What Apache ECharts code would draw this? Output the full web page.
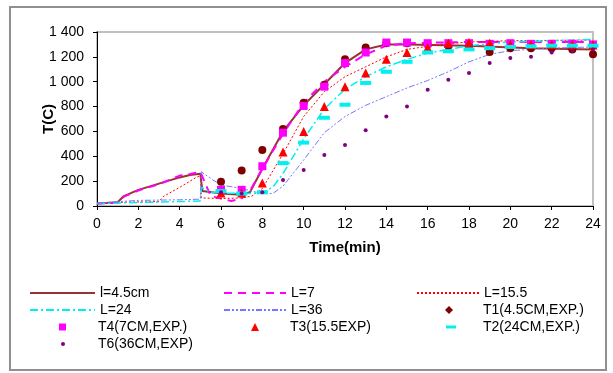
<!DOCTYPE html>
<html>
<head>
<meta charset="utf-8">
<script src="https://cdn.jsdelivr.net/npm/echarts@6/dist/echarts.min.js"></script>
<style>html,body{margin:0;padding:0;background:#fff}#c{width:613px;height:373px}</style>
</head>
<body>
<div id="c"></div>
<script>
// ---- data ----
var xTicks = [0,2,4,6,8,10,12,14,16,18,20,22,24];
var yTicks = [0,200,400,600,800,1000,1200,1400];

var tL45 = [0,1,1.3,2,3,4,4.5,5,5.1,6,7,7.4,8,9,10,11,12,13,14,15,18,21,24];
var vL45 = [20,30,80,130,180,230,250,260,120,100,90,110,300,600,810,980,1150,1260,1300,1300,1290,1270,1260];

var tL7 = [0,1,1.3,2,3,4,4.5,5,5.5,6.5,7,7.5,8,9,10,11,12,13,14,15,18,21,24];
var vL7 = [20,25,75,125,175,245,258,275,80,40,60,150,300,580,830,1000,1120,1220,1290,1310,1320,1320,1320];

var tL155 = [0,1,3,3.2,4,4.75,5,5.05,6,7,7.5,8,9,10,11,12,13,14,15,16.6,18,20,24];
var vL155 = [20,30,35,75,150,225,245,65,60,65,80,140,420,720,920,1040,1120,1200,1260,1300,1320,1330,1335];

var tL24 = [0,5,5.05,5.5,6,7,7.5,8,8.5,9,10,11,12,13,14,15,16,17,18,20,22,24];
var vL24 = [20,40,150,110,105,100,100,110,150,260,540,780,940,1040,1120,1180,1230,1260,1290,1320,1330,1340];

var tL36 = [0,1,2,4,5,5.05,5.6,6,7,7.5,8,8.5,9,10,11,12,13,14,15,16,17,18,19,20,22,24];
var vL36 = [20,35,45,50,55,275,210,170,140,120,100,100,160,370,590,720,810,880,950,1010,1080,1160,1220,1250,1270,1280];

var tExp = [6,7,8,9,10,11,12,13,14,15,16,17,18,19,20,21,22,23,24];
var vT1 = [195,285,450,620,830,975,1180,1275,1310,1310,1300,1290,1280,1240,1270,1270,1270,1260,1220];
var vT4 = [130,130,320,590,805,960,1150,1235,1315,1315,1310,1310,1310,1305,1310,1305,1305,1305,1300];
var vT3 = [105,105,185,435,600,800,960,1070,1180,1235,1275,1310,1315,1310,1300,1300,1300,1300,1295];
var vT2 = [120,100,110,345,510,710,815,990,1080,1160,1235,1245,1260,1270,1280,1285,1290,1290,1290];
var vT6 = [110,100,110,210,290,410,490,610,720,800,935,1015,1070,1150,1190,1200,1235,1250,1260];

var names = ['l=4.5cm','L=7','L=15.5','L=24','L=36','T1(4.5CM,EXP.)','T4(7CM,EXP.)','T3(15.5EXP)','T2(24CM,EXP.)','T6(36CM,EXP)'];

function zip(t, v){ return t.map(function(x,i){ return [x, v[i]]; }); }

var FONT = '"Liberation Sans", Arial, sans-serif';
var CYAN = '#00f0f0';
var P_DASH = 'path://M0,0h10v3h-10z';

function lineSeries(name, t, v, color, width, type){
  return { name: name, type: 'line', data: zip(t, v), symbol: 'none', smooth: false,
    lineStyle: { color: color, width: width, type: type }, itemStyle: { color: color }, z: 2 };
}
function scatterSeries(name, v, color, symbol, size){
  return { name: name, type: 'scatter', data: zip(tExp, v), symbol: symbol, symbolSize: size,
    itemStyle: { color: color, opacity: 1 }, z: 5 };
}

var series = [
  lineSeries(names[0], tL45, vL45, '#993333', 2, 'solid'),
  lineSeries(names[1], tL7, vL7, '#ff00ff', 2, [8,6]),
  lineSeries(names[2], tL155, vL155, '#ff0000', 1, [2,2]),
  lineSeries(names[3], tL24, vL24, CYAN, 1.5, [8,3,2,3]),
  lineSeries(names[4], tL36, vL36, '#7777ff', 1, [6,2,2,2,2,2]),
  scatterSeries(names[5], vT1, '#800000', 'circle', 8),
  scatterSeries(names[6], vT4, '#ff00ff', 'rect', 8),
  scatterSeries(names[7], vT3, '#ff0000', 'triangle', 9),
  scatterSeries(names[8], vT2, CYAN, P_DASH, [11,4]),
  scatterSeries(names[9], vT6, '#800080', 'circle', 4)
];

// legend layout: [series index, left, rowIndex, itemWidth, itemHeight, icon, textPadLeft]
var legendRows = [294, 311, 328, 345];
var legendSpec = [
  [0, 29, 0, 65, 12, null, 0],
  [1, 223, 0, 62, 12, null, 0],
  [2, 416, 0, 62, 12, null, 0],
  [3, 29, 1, 65, 12, null, 0],
  [4, 223, 1, 62, 12, null, 0],
  [5, 445, 1, 8, 8, 'diamond', 25],
  [6, 59, 2, 7, 7, 'rect', 27],
  [7, 251, 2, 8, 8, 'triangle', 26],
  [8, 446, 2, 10, 3, 'rect', 22],
  [9, 61, 3, 4, 4, 'circle', 28]
];
var legends = legendSpec.map(function(s){
  var item = { name: names[s[0]] };
  if (s[5]) item.icon = s[5];
  else item.itemStyle = { opacity: 0 };
  return {
    data: [item], left: s[1], top: legendRows[s[2]] - 8,
    orient: 'horizontal', itemWidth: s[3], itemHeight: s[4], itemGap: 0,
    selectedMode: false, padding: 0, height: 16,
    textStyle: { fontFamily: FONT, fontSize: 14, color: '#000', padding: [0, 0, 0, s[6]] }
  };
});

var chart = echarts.init(document.getElementById('c'), null, { renderer: 'canvas' });
chart.setOption({
  animation: false,
  backgroundColor: '#fff',
  graphic: [{ type: 'rect', shape: { x: 10, y: 7, width: 596, height: 363 },
    style: { fill: 'none', stroke: '#909090', lineWidth: 2 }, z: -1 }],
  grid: { left: 97, right: 20, top: 32, bottom: 167, show: true, borderColor: '#c0c0c0', borderWidth: 2, backgroundColor: '#fff' },
  legend: legends,
  xAxis: {
    type: 'value', min: 0, max: 24, interval: 2,
    name: 'Time(min)', nameLocation: 'middle', nameGap: 34, nameMoveOverlap: false,
    nameTextStyle: { fontFamily: FONT, fontSize: 15, fontWeight: 'bold', color: '#000' },
    axisLine: { show: true, onZero: false, lineStyle: { color: '#000', width: 1 } },
    axisTick: { show: true, length: 4, lineStyle: { color: '#000' } },
    axisLabel: { fontFamily: FONT, fontSize: 14, color: '#000', margin: 11,
      formatter: function(v){ return xTicks.indexOf(v) >= 0 ? String(v) : ''; } },
    splitLine: { show: false }
  },
  yAxis: {
    type: 'value', min: 0, max: 1400, interval: 200,
    name: 'T(C)', nameLocation: 'middle', nameGap: 41, nameRotate: 90, nameMoveOverlap: false,
    nameTextStyle: { fontFamily: FONT, fontSize: 15, fontWeight: 'bold', color: '#000' },
    axisLine: { show: true, onZero: false, lineStyle: { color: '#000', width: 1 } },
    axisTick: { show: true, length: 4, lineStyle: { color: '#000' } },
    axisLabel: { fontFamily: FONT, fontSize: 14, color: '#000', margin: 13,
      formatter: function(v){ if (yTicks.indexOf(v) < 0) return ''; return v >= 1000 ? String(v).replace(/^(\d)(\d{3})$/, '$1 $2') : String(v); } },
    splitLine: { show: false }
  },
  series: series
});
</script>
</body>
</html>
